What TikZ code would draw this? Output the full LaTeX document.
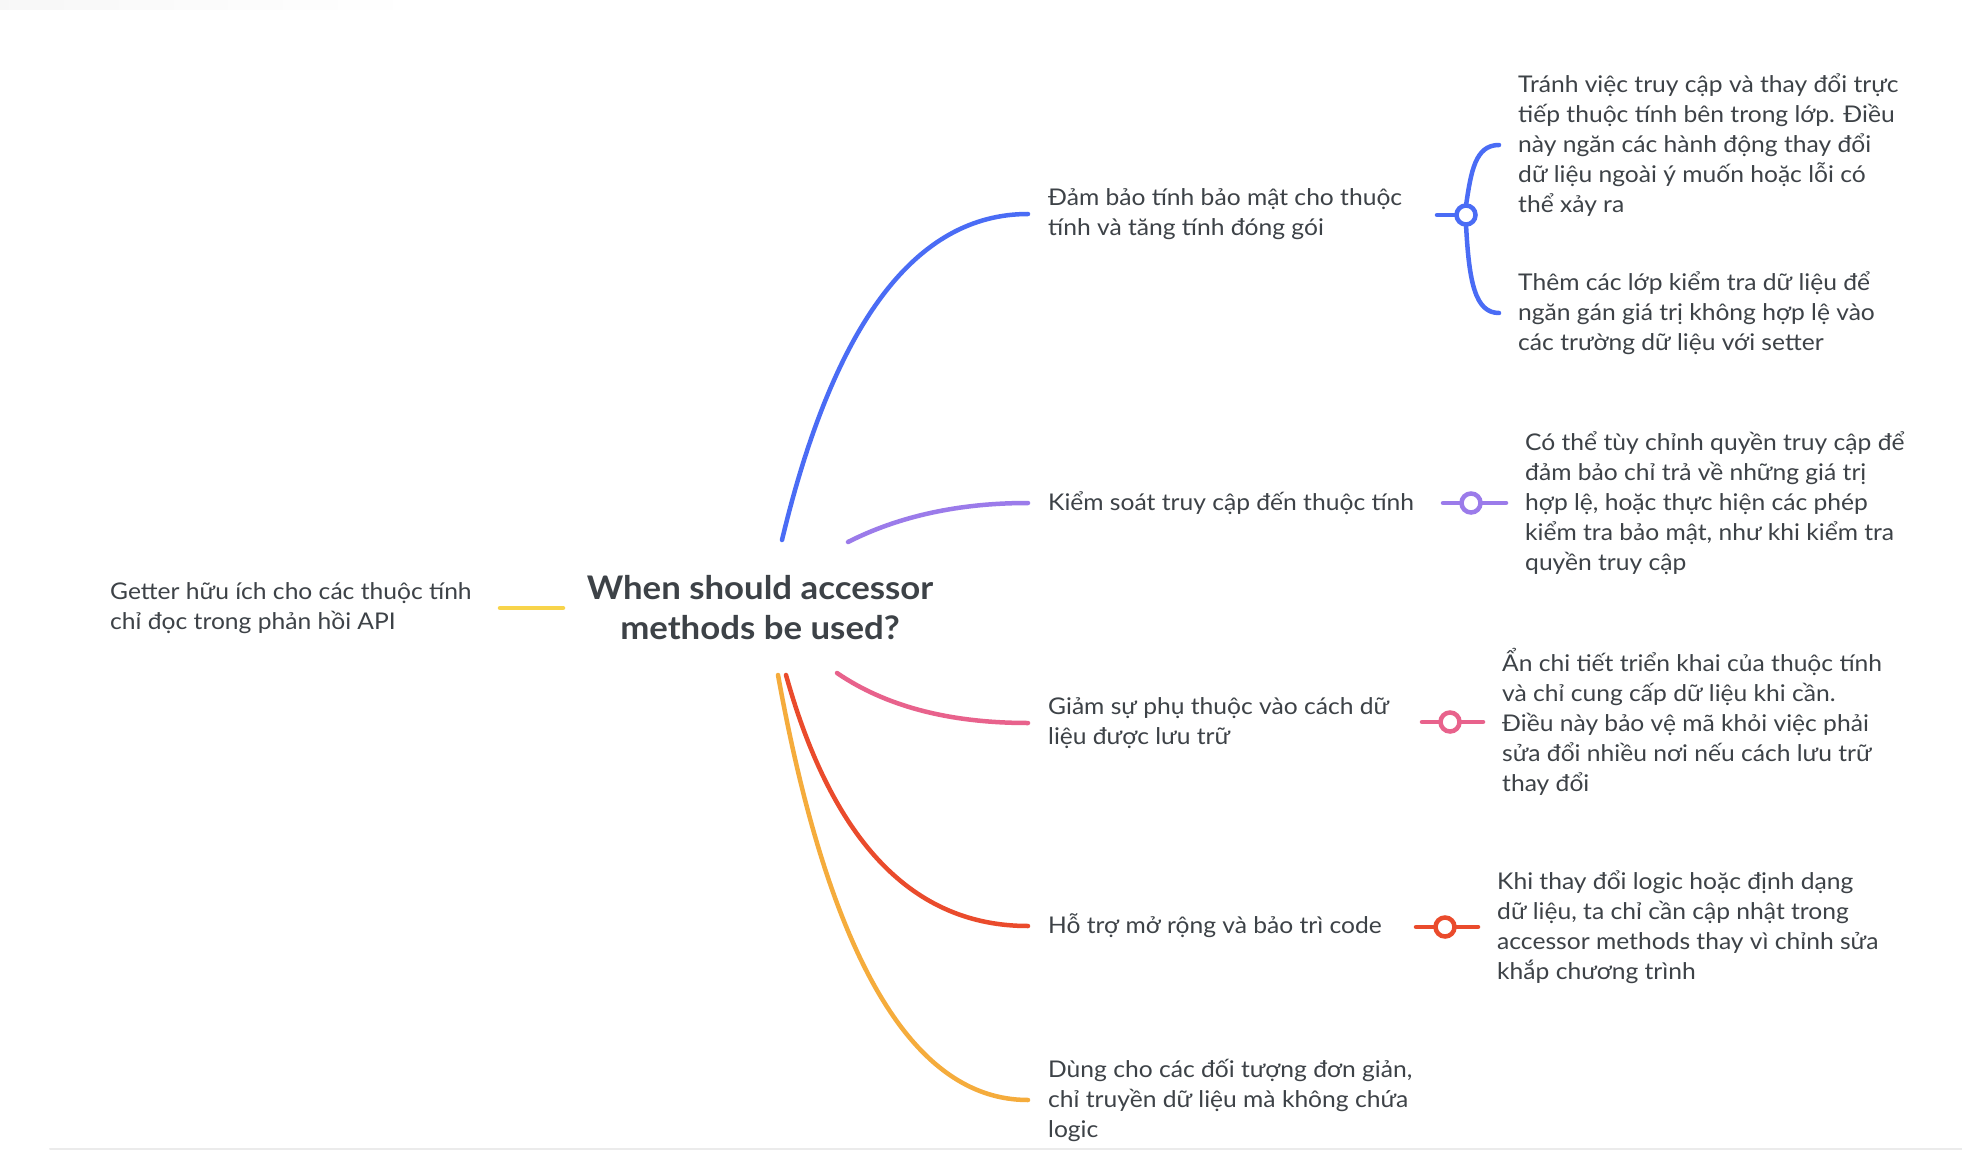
\documentclass[tikz,border=0pt]{standalone}
\usepackage{fontspec}
\setmainfont{Lato}[FakeStretch=1.07]
\definecolor{txt}{HTML}{3D4247}
\definecolor{cBlue}{HTML}{4A6CF5}
\definecolor{cPurple}{HTML}{9B7BEA}
\definecolor{cPink}{HTML}{E8628C}
\definecolor{cRed}{HTML}{EA4B2C}
\definecolor{cOrange}{HTML}{F5AC3C}
\definecolor{cYellow}{HTML}{F8D44A}
\tikzset{
  branch/.style={line width=4.5pt, line cap=round},
  lvl/.style={anchor=west, align=left, inner xsep=20pt, inner ysep=0pt, text=txt, font=\fontsize{23}{30}\selectfont},
  leaf/.style={anchor=west, align=left, inner xsep=19pt, inner ysep=0pt, text=txt, font=\fontsize{23}{30}\selectfont},
  knob/.style={circle, draw, fill=white, line width=4.5pt, minimum size=19pt, inner sep=0pt, outer sep=0pt},
}
\begin{document}
\begin{tikzpicture}[x=1pt,y=-1pt]
\useasboundingbox (0,0) rectangle (1962,1150);
\fill[white] (0,0) rectangle (1962,1150);
\shade[left color=black!3, right color=white] (0,0) rectangle (420,10);
\draw[line width=2pt, black!8, line cap=round] (50,1149) -- (1962,1149);

% root
\node[font=\bfseries\fontsize{32.5}{40}\selectfont, align=center, text=txt, inner sep=0pt] (root) at (760,608) {When should accessor\\methods be used?};

% left node
\node[lvl, inner xsep=0pt] (getter) at (110,608) {Getter hữu ích cho các thuộc tính\\chỉ đọc trong phản hồi API};
\coordinate (yA) at (563,608);
\coordinate (yB) at (500,608);
\draw[branch, cYellow] (yA) -- (yB);

% level-1 nodes
\node[lvl] (n1) at (1028,214) {Đảm bảo tính bảo mật cho thuộc\\tính và tăng tính đóng gói};
\node[lvl] (n2) at (1028,503) {Kiểm soát truy cập đến thuộc tính};
\node[lvl] (n3) at (1028,723) {Giảm sự phụ thuộc vào cách dữ\\liệu được lưu trữ};
\node[lvl] (n4) at (1028,926) {Hỗ trợ mở rộng và bảo trì code};
\node[lvl] (n5) at (1028,1100) {Dùng cho các đối tượng đơn giản,\\chỉ truyền dữ liệu mà không chứa\\logic};

% start points at root
\coordinate (s1) at (782,540);
\coordinate (s2) at (848,542);
\coordinate (s3) at (837,673);
\coordinate (s4) at (786,675);
\coordinate (s5) at (778,675);

\draw[branch, cBlue]   (s1) .. controls (834,322.7) and (916,214) .. (n1.west);
\draw[branch, cPurple] (s2) .. controls (899.3,516) and (959.3,503) .. (n2.west);
\draw[branch, cPink]   (s3) .. controls (885.7,706.3) and (949.3,723) .. (n3.west);
\draw[branch, cRed]    (s4) .. controls (832.7,842.3) and (913.3,926) .. (n4.west);
\draw[branch, cOrange] (s5) .. controls (829.3,958.3) and (912.7,1100) .. (n5.west);

% leaves
\node[leaf] (l11) at (1499,145) {Tránh việc truy cập và thay đổi trực\\tiếp thuộc tính bên trong lớp. Điều\\này ngăn các hành động thay đổi\\dữ liệu ngoài ý muốn hoặc lỗi có\\thể xảy ra};
\node[leaf] (l12) at (1499,313) {Thêm các lớp kiểm tra dữ liệu để\\ngăn gán giá trị không hợp lệ vào\\các trường dữ liệu với setter};
\node[leaf] (l2) at (1506,503) {Có thể tùy chỉnh quyền truy cập để\\đảm bảo chỉ trả về những giá trị\\hợp lệ, hoặc thực hiện các phép\\kiểm tra bảo mật, như khi kiểm tra\\quyền truy cập};
\node[leaf] (l3) at (1483,722) {Ẩn chi tiết triển khai của thuộc tính\\và chỉ cung cấp dữ liệu khi cần.\\Điều này bảo vệ mã khỏi việc phải\\sửa đổi nhiều nơi nếu cách lưu trữ\\thay đổi};
\node[leaf] (l4) at (1478,927) {Khi thay đổi logic hoặc định dạng\\dữ liệu, ta chỉ cần cập nhật trong\\accessor methods thay vì chỉnh sửa\\khắp chương trình};

% knobs
\coordinate (t1) at (1437,215);
\coordinate (t2) at (1443,503);
\coordinate (t3) at (1422,722);
\coordinate (t4) at (1416,927);
\node[knob, draw=cBlue]   (k1) at (1466,215) {};
\node[knob, draw=cPurple] (k2) at (1471,503) {};
\node[knob, draw=cPink]   (k3) at (1450,722) {};
\node[knob, draw=cRed]    (k4) at (1445,927) {};

\draw[branch, cBlue] (t1) -- (k1.west);
\draw[branch, cBlue] (k1.north) .. controls (1471,172) and (1475,145) .. (l11.west);
\draw[branch, cBlue] (k1.south) .. controls (1469,282) and (1475,313) .. (l12.west);
\draw[branch, cPurple] (t2) -- (k2.west);
\draw[branch, cPurple] (k2.east) -- (l2.west);
\draw[branch, cPink] (t3) -- (k3.west);
\draw[branch, cPink] (k3.east) -- (l3.west);
\draw[branch, cRed] (t4) -- (k4.west);
\draw[branch, cRed] (k4.east) -- (l4.west);
\end{tikzpicture}
\end{document}
